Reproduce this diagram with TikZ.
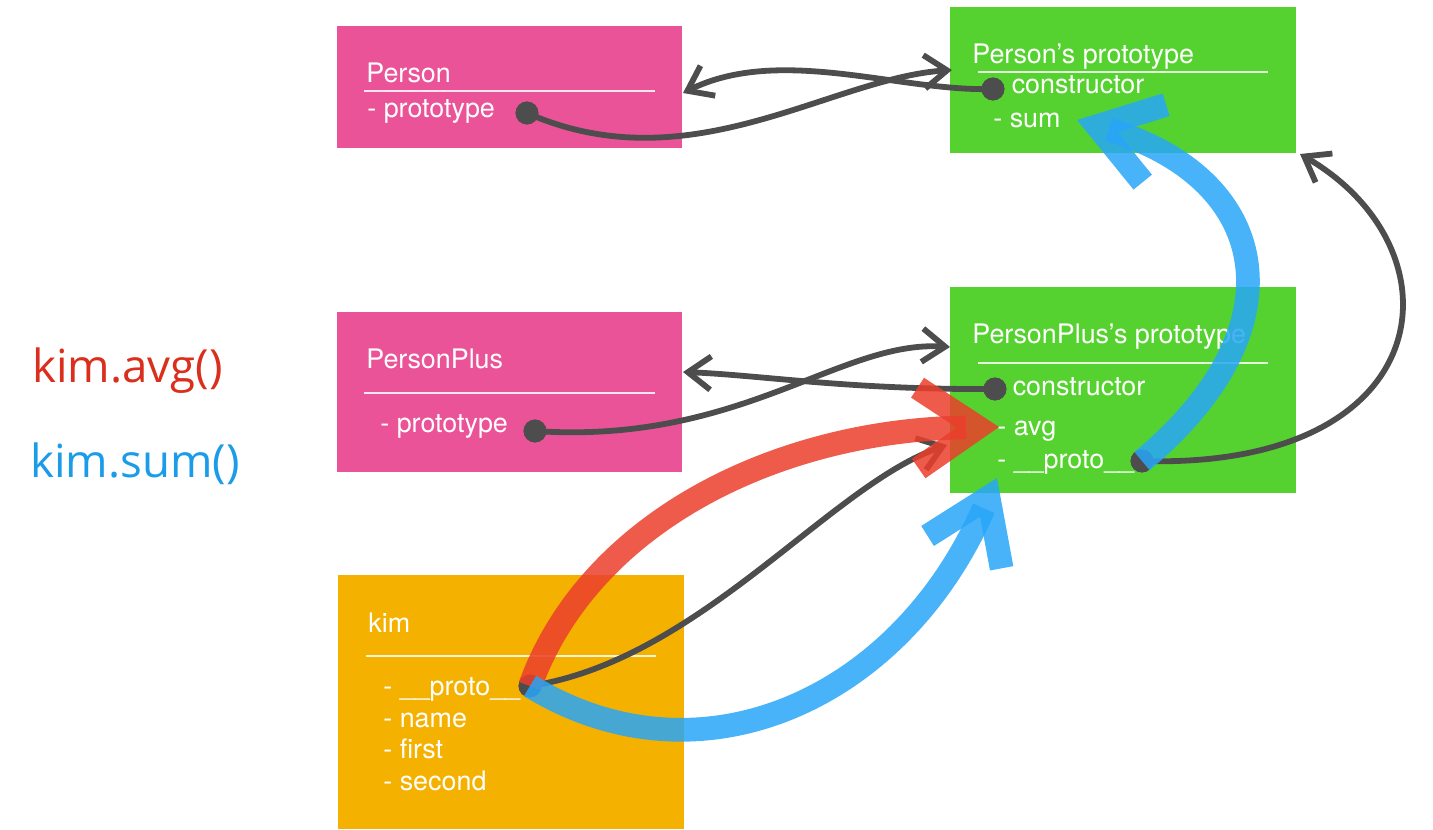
\documentclass[tikz,border=0pt]{standalone}
\usepackage{fontspec}
\setmainfont{TeX Gyre Heros}
\newfontfamily\callfont{Open Sans}
\usetikzlibrary{arrows.meta}

\definecolor{funcpink}{RGB}{234,83,152}
\definecolor{protogreen}{RGB}{86,210,48}
\definecolor{objorange}{RGB}{245,177,0}
\definecolor{linkgray}{RGB}{77,77,77}
\definecolor{avgred}{RGB}{235,62,44}
\definecolor{sumblue}{RGB}{40,166,248}
\definecolor{callred}{RGB}{218,47,28}
\definecolor{callblue}{RGB}{28,156,232}

\tikzset{
  field/.style={anchor=base west, inner sep=0pt, text=white, font=\fontsize{15.3}{18}\selectfont},
  callout/.style={anchor=base west, inner sep=0pt, font=\callfont\fontsize{26}{30}\selectfont},
  rule/.style={draw=white, draw opacity=.85, line width=0.8pt},
  pin/.style={circle, fill=linkgray, inner sep=0pt, minimum size=13pt},
  link/.style={draw=linkgray, line width=3.3pt, -{Straight Barb[length=13pt,width=19pt]}},
  fatarrow/.style={line width=13.5pt, draw opacity=.85, -{Straight Barb[length=34pt,width=46pt]}}
}

\begin{document}
\begin{tikzpicture}[x=0.02cm, y=-0.02cm]
			%%%%% START %%%%%
			\useasboundingbox (0,0) rectangle (1433,829);
			
			% boxes
			\fill[funcpink] (337,26) rectangle (682,148);
			\fill[protogreen] (950,7) rectangle (1296,153);
			\fill[funcpink] (337,312) rectangle (682,472);
			\fill[protogreen] (950,287) rectangle (1296,493);
			\fill[objorange] (338,575) rectangle (684,829);
			
			% Person
			\node[field] (personTitle) at (366,82) {Person};
			\draw[rule] (364,91) -- (655,91);
			\node[field] (personProto) at (367,117) {- prototype};
			
			% Person's prototype
			\node[field] (personPtTitle) at (972,63) {Person’s prototype};
			\draw[rule] (978,72) -- (1268,72);
			\node[field] (personPtCtor) at (995,93) {- constructor};
			\node[field] (personPtSum) at (993,127) {- sum};
			
			% PersonPlus
			\node[field] (plusTitle) at (366,368) {PersonPlus};
			\draw[rule] (364,393) -- (655,393);
			\node[field] (plusProto) at (380,432) {- prototype};
			
			% PersonPlus's prototype
			\node[field] (plusPtTitle) at (972,343) {PersonPlus’s prototype};
			\draw[rule] (978,363) -- (1268,363);
			\node[field] (plusPtCtor) at (996,395) {- constructor};
			\node[field] (plusPtAvg) at (997,435) {- avg};
			\node[field] (plusPtLink) at (997,468) {- \_\_proto\_\_};
			
			% kim
			\node[field] (kimTitle) at (368,632) {kim};
			\draw[rule] (366,656) -- (656,656);
			\node[field] (kimLink) at (383,695) {- \_\_proto\_\_};
			\node[field] (kimName) at (383,727) {- name};
			\node[field] (kimFirst) at (383,758) {- first};
			\node[field] (kimSecond) at (383,790) {- second};
			
			% calls
			\node[callout, text=callred] (avgCall) at (32,382) {kim.avg()};
			\node[callout, text=callblue] (sumCall) at (30,477) {kim.sum()};
			
			% dots and arrow ends
			\node[pin] (personPin) at (527,113) {};
			\node[pin] (personCtorPin) at (993,89) {};
			\node[pin] (plusPin) at (535,431) {};
			\node[pin] (plusCtorPin) at (995,389) {};
			\node[pin] (plusLinkPin) at (1142,461) {};
			\node[pin] (kimPin) at (530,686) {};
			
			\coordinate (personPtIn) at (952,70);
			\coordinate (personIn) at (683,93);
			\coordinate (plusPtIn) at (950,347);
			\coordinate (plusIn) at (683,372);
			\coordinate (personPtCorner) at (1300,154);
			\coordinate (plusPtSide) at (947,445);
			\coordinate (avgTip) at (999,427);
			\coordinate (plusPtBottom) at (997,478);
			\coordinate (sumTip) at (1077,120);
			
			% gray links
			\draw[link] (personPin.center) .. controls (690,185) and (830,78) .. (personPtIn);
			\draw[link] (personCtorPin.center) .. controls (900,92) and (780,45) .. (personIn);
			\draw[link] (plusPin.center) .. controls (740,445) and (840,340) .. (plusPtIn);
			\draw[link] (plusCtorPin.center) .. controls (850,390) and (760,375) .. (plusIn);
			\draw[link] (kimPin.center) .. controls (700,660) and (830,485) .. (plusPtSide);
			\draw[link] (plusLinkPin.center) .. controls (1440,470) and (1465,250) .. (personPtCorner);
			
			\node[pin] at (personPin) {};
			\node[pin] at (personCtorPin) {};
			\node[pin] at (plusPin) {};
			\node[pin] at (plusCtorPin) {};
			\node[pin] at (plusLinkPin) {};
			\node[pin] at (kimPin) {};
			
			% lookups
			\draw[fatarrow, draw=avgred] (kimPin.center) .. controls (590,520) and (780,430) .. (avgTip);
			\draw[fatarrow, draw=sumblue] (kimPin.center) .. controls (700,790) and (900,700) .. (plusPtBottom);
			\draw[fatarrow, draw=sumblue] (plusLinkPin.center) .. controls (1300,330) and (1275,180) .. (sumTip);
			
			%%%%% END %%%%%
		\end{tikzpicture}
\end{document}
